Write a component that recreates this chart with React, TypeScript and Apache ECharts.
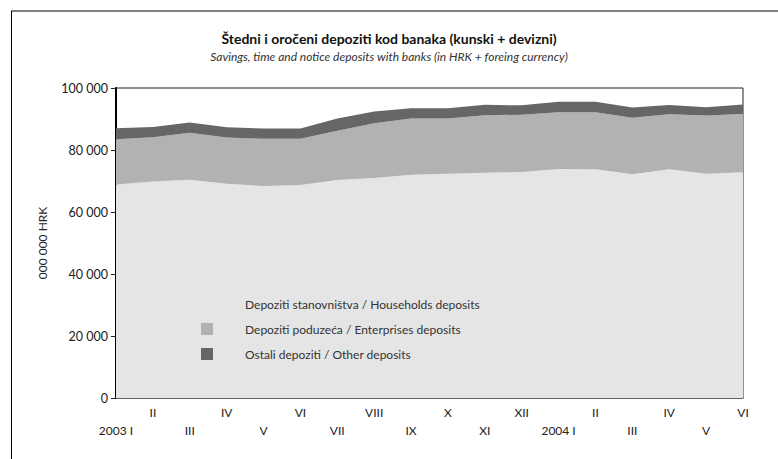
import React, { useEffect, useRef } from "react";
import * as echarts from "echarts";

const months = ["2003-01","2003-02","2003-03","2003-04","2003-05","2003-06","2003-07","2003-08","2003-09","2003-10","2003-11","2003-12","2004-01","2004-02","2004-03","2004-04","2004-05","2004-06"];
const monthLabels = ["2003 I","II","III","IV","V","VI","VII","VIII","IX","X","XI","XII","2004 I","II","III","IV","V","VI"];
const households = [68900, 69800, 70400, 69100, 68400, 68700, 70300, 71000, 72000, 72300, 72700, 72900, 73900, 73800, 72200, 73800, 72300, 72800];
const enterprises = [14600, 14300, 15200, 14900, 15200, 14900, 15900, 17600, 18200, 17900, 18500, 18500, 18300, 18400, 18200, 17700, 18800, 18800];
const others = [3500, 3300, 3300, 3300, 3300, 3300, 4000, 3800, 3300, 3300, 3400, 3000, 3400, 3400, 3300, 3000, 2700, 3100];
const yTicks = [0, 20000, 40000, 60000, 80000, 100000];

const seriesNames = [
  "Depoziti stanovništva / Households deposits",
  "Depoziti poduzeća / Enterprises deposits",
  "Ostali depoziti / Other deposits",
];
const colors = ["#e5e5e5", "#b2b2b2", "#666666"];
const FONT = "Lato";

export default function App() {
  const ref = useRef<HTMLDivElement>(null);
  useEffect(() => {
    if (!ref.current) return;
    const chart = echarts.init(ref.current, null, { renderer: "svg" });
    const datasets = [households, enterprises, others];
    chart.setOption({
      animation: false,
      textStyle: { fontFamily: FONT },
      title: {
        text: "Štedni i oročeni depoziti kod banaka (kunski + devizni)",
        subtext: "Savings, time and notice deposits with banks (in HRK + foreing currency)",
        left: "center",
        top: 26,
        itemGap: 5,
        textStyle: { fontFamily: FONT, fontSize: 14, fontWeight: "bold", color: "#111" },
        subtextStyle: { fontFamily: FONT, fontSize: 12, fontStyle: "italic", color: "#333" },
      },
      graphic: [
        { type: "line", shape: { x1: 11, y1: 11, x2: 778, y2: 11 }, style: { stroke: "#808080", lineWidth: 2 } },
        { type: "line", shape: { x1: 11.5, y1: 11, x2: 11.5, y2: 459 }, style: { stroke: "#000", lineWidth: 1 } },
      ],
      legend: {
        orient: "vertical",
        left: 196,
        top: 293,
        itemWidth: 12,
        itemHeight: 12,
        itemGap: 13,
        icon: "rect",
        selectedMode: false,
        data: seriesNames,
        textStyle: { fontFamily: FONT, fontSize: 12, color: "#333", padding: [0, 0, 0, 27] },
      },
      grid: {
        left: 116,
        right: 35,
        top: 88,
        bottom: 61,
        show: true,
        borderColor: "#222",
        borderWidth: 1,
      },
      xAxis: {
        type: "category",
        data: months,
        boundaryGap: false,
        axisLine: { lineStyle: { color: "#555", width: 1.5 } },
        axisTick: { show: false },
        axisLabel: {
          interval: 0,
          margin: 5,
          fontFamily: FONT,
          fontSize: 12,
          color: "#222",
          lineHeight: 18,
          formatter: (_v: string, i: number) => (i % 2 === 1 ? monthLabels[i] : "\n" + monthLabels[i]),
        },
      },
      yAxis: {
        type: "value",
        min: yTicks[0],
        max: yTicks[yTicks.length - 1],
        interval: 20000,
        name: "000 000 HRK",
        nameLocation: "middle",
        nameGap: 68,
        nameTextStyle: { fontFamily: FONT, fontSize: 12, color: "#222" },
        axisLine: { show: true, lineStyle: { color: "#000", width: 2 } },
        axisTick: { show: true, length: 5, lineStyle: { color: "#222" } },
        splitLine: { show: false },
        axisLabel: {
          margin: 8,
          fontFamily: FONT,
          fontSize: 12.5,
          color: "#222",
          formatter: (v: number) => String(v).replace(/\B(?=(\d{3})+(?!\d))/g, " "),
        },
      },
      series: datasets.map((d, k) => ({
        name: seriesNames[k],
        type: "line",
        stack: "total",
        data: d,
        symbol: "none",
        lineStyle: { width: 0 },
        areaStyle: { color: colors[k], opacity: 1 },
        itemStyle: { color: colors[k] },
      })),
    });
    return () => chart.dispose();
  }, []);
  return <div ref={ref} style={{ position: "fixed", left: 0, top: 0, width: 778, height: 459, background: "#fff" }} />;
}
